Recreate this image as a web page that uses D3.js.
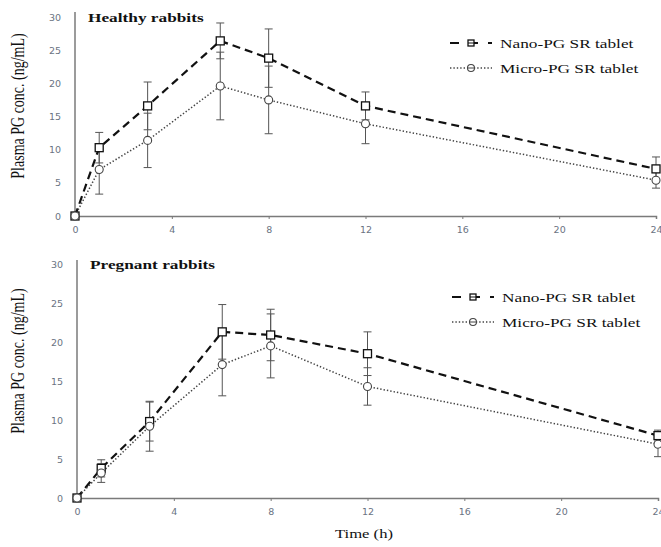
<!DOCTYPE html>
<html>
<head>
<meta charset="utf-8">
<script src="https://cdn.jsdelivr.net/npm/d3@7"></script>
<style>
  body { margin: 0; background: #fff; }
  svg { display: block; }
</style>
</head>
<body>
<div id="chart"></div>
<script>
const times = [0, 1, 3, 6, 8, 12, 24];
const xTicks = [0, 4, 8, 12, 16, 20, 24];
const yTicks = [0, 5, 10, 15, 20, 25, 30];
const seriesNames = ["Nano-PG SR tablet", "Micro-PG SR tablet"];
const panelTitles = ["Healthy rabbits", "Pregnant rabbits"];

const healthyNano = [0, 10.3, 16.6, 26.4, 23.8, 16.6, 7.1];
const healthyNanoSD = [0, 2.3, 3.6, 2.7, 4.4, 2.1, 1.8];
const healthyMicro = [0, 7.0, 11.4, 19.6, 17.5, 13.9, 5.4];
const healthyMicroSD = [0, 3.7, 4.1, 5.1, 5.1, 3.0, 1.2];

const pregnantNano = [0, 3.8, 9.8, 21.3, 20.9, 18.5, 8.0];
const pregnantNanoSD = [0, 1.1, 2.5, 3.5, 3.3, 2.8, 0.7];
const pregnantMicro = [0, 3.2, 9.2, 17.1, 19.5, 14.3, 6.9];
const pregnantMicroSD = [0, 1.2, 3.2, 4.0, 4.1, 2.4, 1.6];

const W = 661, H = 547;
const stretch = 1.33; // the source picture is widened horizontally
const serif = "'Liberation Serif', 'Times New Roman', serif";
const tickColor = "#6a7382";
const axisColor = "#7a7a7a";

const svg = d3.select("#chart").append("svg")
    .attr("width", W).attr("height", H);

const panels = [
    { title: panelTitles[0], nano: healthyNano, nanoSD: healthyNanoSD, micro: healthyMicro, microSD: healthyMicroSD,
      x0: 75, x1: 656, y0: 216, y1: 17, axisTop: 12, labelY: 106, legendX: 450, legendY: 43 },
    { title: panelTitles[1], nano: pregnantNano, nanoSD: pregnantNanoSD, micro: pregnantMicro, microSD: pregnantMicroSD,
      x0: 77, x1: 658, y0: 498, y1: 264, axisTop: 260, labelY: 361, legendX: 452, legendY: 297 }
];

const stretchedText = (g, x, y, str, size, weight, anchor, rotate) => {
    g.append("text")
        .attr("transform", `translate(${x},${y}) scale(${stretch},1)` + (rotate ? " rotate(-90)" : ""))
        .attr("text-anchor", anchor || "start")
        .attr("font-family", serif)
        .attr("font-size", size)
        .attr("font-weight", weight || "normal")
        .attr("fill", "#111")
        .text(str);
};

const drawSquare = (g, cx, cy, s) => g.append("rect")
    .attr("x", cx - s / 2).attr("y", cy - s / 2).attr("width", s).attr("height", s)
    .attr("fill", "#fff").attr("stroke", "#111").attr("stroke-width", 1.3);

const drawCircle = (g, cx, cy, r) => g.append("circle")
    .attr("cx", cx).attr("cy", cy).attr("r", r)
    .attr("fill", "#fff").attr("stroke", "#444").attr("stroke-width", 1.1);

panels.forEach(p => {
    const g = svg.append("g");
    const x = d3.scaleLinear().domain([0, 24]).range([p.x0, p.x1]);
    const y = d3.scaleLinear().domain([0, 30]).range([p.y0, p.y1]);

    // axes
    g.append("line").attr("x1", p.x0).attr("x2", p.x0).attr("y1", p.axisTop).attr("y2", p.y0)
        .attr("stroke", axisColor).attr("stroke-width", 1.5);
    const xAxis = g.append("g").attr("transform", `translate(0,${p.y0})`)
        .call(d3.axisBottom(x).tickValues(xTicks).tickSize(3).tickPadding(7).tickFormat(d3.format("d")));
    xAxis.select(".domain").attr("stroke", axisColor).attr("stroke-width", 1.5);
    xAxis.selectAll(".tick line").attr("stroke", axisColor);
    xAxis.selectAll(".tick text").attr("fill", tickColor).attr("font-family", "'DejaVu Sans', Verdana, sans-serif")
        .attr("font-size", 9.5);

    const yAxis = g.append("g").attr("transform", `translate(${p.x0},0)`)
        .call(d3.axisLeft(y).tickValues(yTicks).tickSize(0).tickPadding(14).tickFormat(d3.format("d")));
    yAxis.select(".domain").remove();
    yAxis.selectAll(".tick text").attr("fill", tickColor).attr("font-family", "'DejaVu Sans', Verdana, sans-serif")
        .attr("font-size", 9.5);

    // y label and title
    stretchedText(g, 24, p.labelY, "Plasma PG conc. (ng/mL)", 14, "normal", "middle", true);
    stretchedText(g, p.x0 + 13, p.y1 + 5, p.title, 13, "bold", "start");

    const series = [
        { vals: p.nano, sd: p.nanoSD, dash: "8,5", width: 2.2, color: "#111", marker: "square" },
        { vals: p.micro, sd: p.microSD, dash: "1.4,2", width: 1.5, color: "#444", marker: "circle" }
    ];

    // error bars
    series.forEach(s => {
        times.forEach((t, i) => {
            if (!s.sd[i]) return;
            const cx = x(t), lo = y(s.vals[i] - s.sd[i]), hi = y(s.vals[i] + s.sd[i]);
            g.append("line").attr("x1", cx).attr("x2", cx).attr("y1", lo).attr("y2", hi)
                .attr("stroke", "#555").attr("stroke-width", 1);
            [lo, hi].forEach(yy => g.append("line")
                .attr("x1", cx - 4).attr("x2", cx + 4).attr("y1", yy).attr("y2", yy)
                .attr("stroke", "#555").attr("stroke-width", 1));
        });
    });

    const line = d3.line().x((d, i) => x(times[i])).y(d => y(d));
    series.forEach(s => {
        g.append("path").datum(s.vals).attr("d", line)
            .attr("fill", "none").attr("stroke", s.color)
            .attr("stroke-width", s.width).attr("stroke-dasharray", s.dash);
    });
    series.forEach(s => {
        s.vals.forEach((v, i) => {
            if (s.marker === "square") drawSquare(g, x(times[i]), y(v), 8);
            else drawCircle(g, x(times[i]), y(v), 4);
        });
    });

    // legend
    series.forEach((s, k) => {
        const ly = p.legendY + k * 25;
        g.append("line").attr("x1", p.legendX).attr("x2", p.legendX + 42).attr("y1", ly).attr("y2", ly)
            .attr("stroke", s.color).attr("stroke-width", s.width)
            .attr("stroke-dasharray", k === 0 ? "9,10" : "1.4,2");
        if (s.marker === "square") {
            drawSquare(g, p.legendX + 21, ly, 6);
            g.append("line").attr("x1", p.legendX + 18).attr("x2", p.legendX + 24).attr("y1", ly).attr("y2", ly)
                .attr("stroke", "#111").attr("stroke-width", 1);
        } else {
            drawCircle(g, p.legendX + 21, ly, 3.5);
            g.append("line").attr("x1", p.legendX + 18).attr("x2", p.legendX + 24).attr("y1", ly).attr("y2", ly)
                .attr("stroke", "#444").attr("stroke-width", 1);
        }
        stretchedText(g, p.legendX + 50, ly + 5, seriesNames[k], 13, "normal", "start");
    });
});

stretchedText(svg, 364, 538, "Time (h)", 12.5, "normal", "middle");
</script>
</body>
</html>
